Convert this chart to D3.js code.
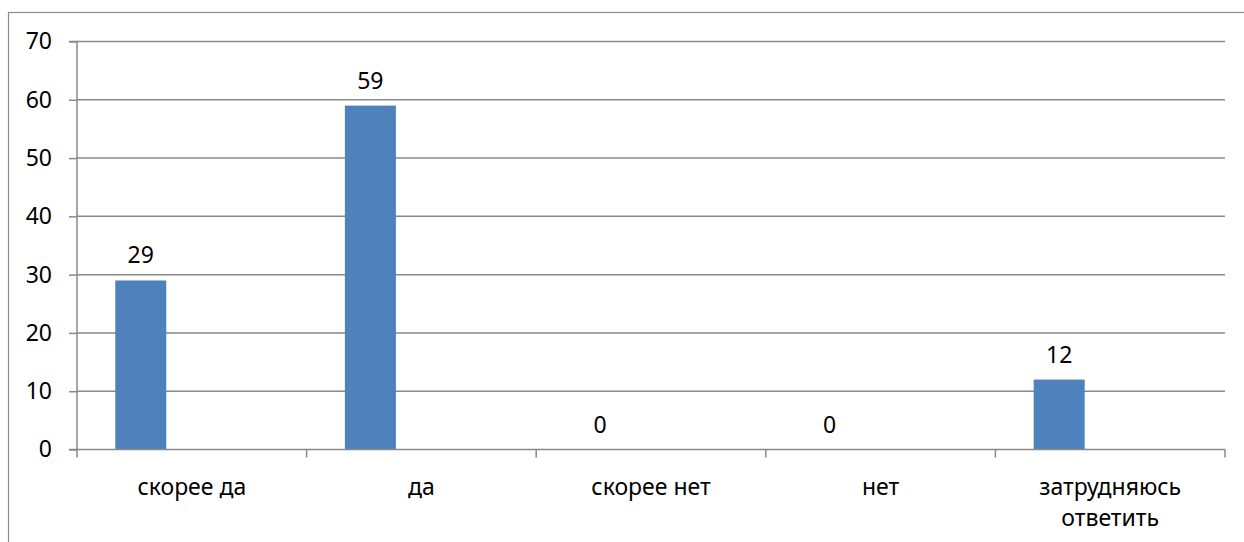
<!DOCTYPE html>
<html>
<head>
<meta charset="utf-8">
<script src="https://cdn.jsdelivr.net/npm/d3@7"></script>
<style>
  html, body { margin: 0; padding: 0; background: #fff; }
  svg { display: block; }
  text { font-family: "Noto Sans", "Open Sans", sans-serif; fill: #000; }
</style>
</head>
<body>
<svg id="chart" width="1244" height="542"></svg>
<script>
const categories = ["скорее да", "да", "скорее нет", "нет", "затрудняюсь ответить"];
const values = [29, 59, 0, 0, 12];
const yTicks = [0, 10, 20, 30, 40, 50, 60, 70];
const slots = ["s1", "s2", "s3"];

const svg = d3.select("#chart");
const fontSize = 23;

// outer border
svg.append("rect")
  .attr("x", 8.5).attr("y", 12.5)
  .attr("width", 1260).attr("height", 560)
  .attr("fill", "none").attr("stroke", "#8c8c8c").attr("stroke-width", 1.2);

const plotLeft = 77, plotRight = 1225, plotTop = 41.5, plotBottom = 449.5;

const x = d3.scaleBand().domain(categories).range([plotLeft, plotRight]).paddingInner(0).paddingOuter(0);
const xs = d3.scaleBand().domain(slots).range([0, x.bandwidth()]).paddingInner(0).paddingOuter(0.75);
const y = d3.scaleLinear().domain([0, 70]).range([plotBottom, plotTop]);

const gridColor = "#898989";

// gridlines
svg.append("g").selectAll("line").data(yTicks.filter(d => d > 0)).join("line")
  .attr("x1", plotLeft).attr("x2", plotRight)
  .attr("y1", d => y(d)).attr("y2", d => y(d))
  .attr("stroke", gridColor).attr("stroke-width", 1.5);

// y axis
const yAxis = d3.axisLeft(y).tickValues(yTicks).tickSize(8).tickPadding(17).tickFormat(d3.format("d"));
const gy = svg.append("g").attr("transform", `translate(${plotLeft},0)`).call(yAxis);
gy.select(".domain").attr("stroke", gridColor).attr("stroke-width", 1.5).attr("d", `M-8,${plotTop}H0V${plotBottom}H-8`);
gy.selectAll(".tick line").attr("stroke", gridColor).attr("stroke-width", 1.5);
gy.selectAll(".tick text").style("font-size", fontSize + "px").style("font-family", '"Noto Sans", sans-serif').attr("fill", "#000");

// bars
svg.append("g").selectAll("rect").data(values).join("rect")
  .attr("x", (d, i) => x(categories[i]) + xs("s1"))
  .attr("width", xs.bandwidth())
  .attr("y", d => y(d))
  .attr("height", d => y(0) - y(d))
  .attr("fill", "#4F81BD");

// x axis
const xAxis = d3.axisBottom(x).tickSize(0).tickFormat("");
const gx = svg.append("g").attr("transform", `translate(0,${plotBottom})`).call(xAxis);
gx.select(".domain").attr("stroke", gridColor).attr("stroke-width", 1.5).attr("d", `M${plotLeft},0H${plotRight}`);
const boundaries = categories.map(c => x(c)).concat([plotRight]);
gx.selectAll("line.cat").data(boundaries).join("line").attr("class", "cat")
  .attr("x1", d => d).attr("x2", d => d).attr("y1", 0).attr("y2", 8)
  .attr("stroke", gridColor).attr("stroke-width", 1.5);

// category labels (wrapped)
const catLines = {"затрудняюсь ответить": ["затрудняюсь", "ответить"]};
const lbl = svg.append("g").selectAll("text").data(categories).join("text")
  .attr("x", d => x(d) + x.bandwidth() / 2)
  .attr("y", 486)
  .attr("text-anchor", "middle")
  .attr("dominant-baseline", "central")
  .style("font-size", fontSize + "px");
lbl.each(function(d) {
  const lines = catLines[d] || [d];
  const t = d3.select(this);
  lines.forEach((ln, i) => {
    t.append("tspan").attr("x", x(d) + x.bandwidth() / 2).attr("dy", i === 0 ? 0 : 31).text(ln);
  });
});

// value labels
svg.append("g").selectAll("text").data(values).join("text")
  .attr("x", (d, i) => x(categories[i]) + xs("s1") + xs.bandwidth() / 2)
  .attr("y", d => y(d) - 26)
  .attr("text-anchor", "middle")
  .attr("dominant-baseline", "central")
  .style("font-size", fontSize + "px")
  .text(d => d);
</script>
</body>
</html>
